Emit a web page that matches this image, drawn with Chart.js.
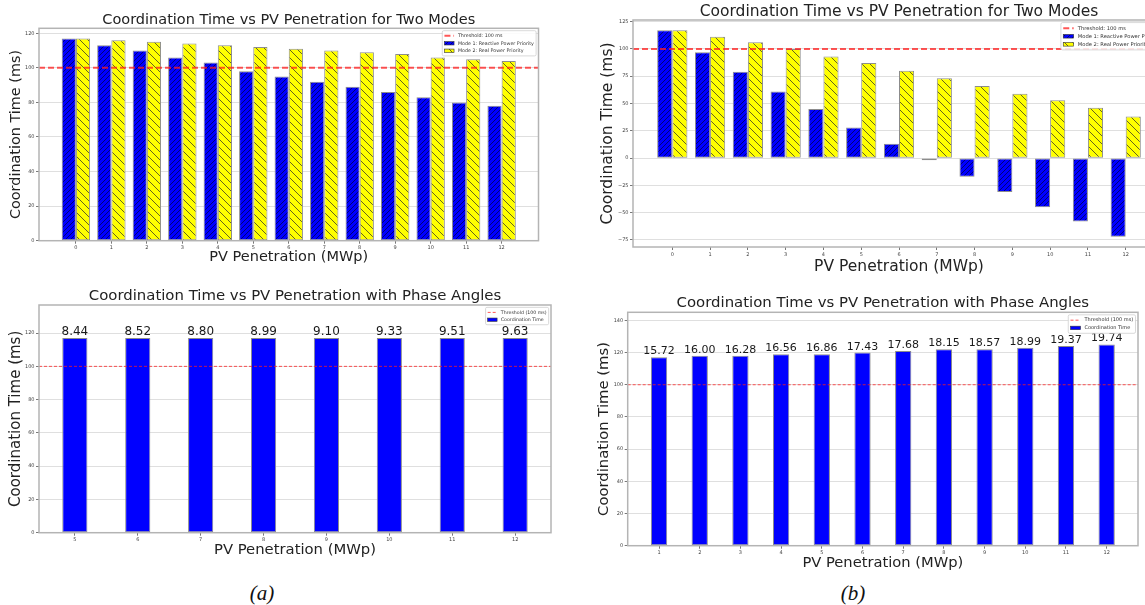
<!DOCTYPE html>
<html>
<head>
<meta charset="utf-8">
<script src="https://cdn.jsdelivr.net/npm/chart.js@4.4.1/dist/chart.umd.min.js"></script>
<style>
  html, body { margin: 0; padding: 0; background: #ffffff; }
  body { width: 1145px; height: 605px; overflow: hidden; position: relative; }
  canvas { position: absolute; }
  .cap { position: absolute; width: 80px; text-align: center; font-family: "Liberation Serif", "DejaVu Serif", serif; font-style: italic; font-size: 21px; color: #111; line-height: 26px; }
</style>
</head>
<body>
<canvas id="cA" width="560" height="272" style="left:0px;top:0px;"></canvas>
<canvas id="cB" width="595" height="282" style="left:590px;top:0px;"></canvas>
<canvas id="cC" width="575" height="285" style="left:0px;top:280px;"></canvas>
<canvas id="cD" width="575" height="292" style="left:585px;top:285px;"></canvas>
<div class="cap" style="left:222px;top:580px;">(a)</div>
<div class="cap" style="left:813px;top:580px;">(b)</div>
<script>
// ---------------- DATA ----------------
const pvLevelsA = [0, 1, 2, 3, 4, 5, 6, 7, 8, 9, 10, 11, 12];
const mode1TimesA = [117, 113, 110, 106, 103, 98, 95, 92, 89, 86, 83, 80, 78];
const mode2TimesA = [117, 116, 115, 114, 113, 112, 111, 110, 109, 108, 106, 105, 104];

const pvLevelsB = [0, 1, 2, 3, 4, 5, 6, 7, 8, 9, 10, 11, 12];
const mode1TimesB = [117, 97, 79, 61, 45, 28, 13, -2, -17, -31, -45, -58, -72];
const mode2TimesB = [117, 111, 106, 100, 93, 87, 80, 73, 66, 59, 53, 46, 38];

const pvLevelsC = [5, 6, 7, 8, 9, 10, 11, 12];
const coordTimesC = [117, 117, 117, 117, 117, 117, 117, 117];
const phaseAnglesC = [8.44, 8.52, 8.80, 8.99, 9.10, 9.33, 9.51, 9.63];

const pvLevelsD = [1, 2, 3, 4, 5, 6, 7, 8, 9, 10, 11, 12];
const coordTimesD = [117, 118, 118, 119, 119, 120, 121, 122, 122, 123, 124, 125];
const phaseAnglesD = [15.72, 16.00, 16.28, 16.56, 16.86, 17.43, 17.68, 18.15, 18.57, 18.99, 19.37, 19.74];

const thresholdMs = 100;

const yTicksA = [0, 20, 40, 60, 80, 100, 120];
const yTicksB = [-75, -50, -25, 0, 25, 50, 75, 100, 125];
const yTicksC = [0, 20, 40, 60, 80, 100, 120];
const yTicksD = [0, 20, 40, 60, 80, 100, 120, 140];

const titleModes = 'Coordination Time vs PV Penetration for Two Modes';
const titleAngles = 'Coordination Time vs PV Penetration with Phase Angles';
const xAxisTitle = 'PV Penetration (MWp)';
const yAxisTitle = 'Coordination Time (ms)';
const mode1Name = 'Mode 1: Reactive Power Priority';
const mode2Name = 'Mode 2: Real Power Priority';
const coordName = 'Coordination Time';
const thresholdNameTop = 'Threshold: 100 ms';
const thresholdNameBottom = 'Threshold (100 ms)';

// ---------------- STYLE HELPERS ----------------
Chart.defaults.font.family = '"DejaVu Sans", "Noto Sans", sans-serif';

function hatch(bg, dir, s, color, lw) {
  const c = document.createElement('canvas');
  c.width = s; c.height = s;
  const x = c.getContext('2d');
  x.fillStyle = bg; x.fillRect(0, 0, s, s);
  x.strokeStyle = color; x.lineWidth = lw;
  x.beginPath();
  if (dir === '/') {
    x.moveTo(0, s); x.lineTo(s, 0);
    x.moveTo(-s / 2, s / 2); x.lineTo(s / 2, -s / 2);
    x.moveTo(s / 2, s * 1.5); x.lineTo(s * 1.5, s / 2);
  } else {
    x.moveTo(0, 0); x.lineTo(s, s);
    x.moveTo(-s / 2, s / 2); x.lineTo(s / 2, s * 1.5);
    x.moveTo(s / 2, -s / 2); x.lineTo(s * 1.5, s / 2);
  }
  x.stroke();
  return x.createPattern(c, 'repeat');
}
const blueHatch = hatch('#0000ff', '/', 5, 'rgba(0,0,30,0.75)', 0.8);
const yellowHatch = hatch('#ffff00', '\\', 8, 'rgba(40,40,40,0.8)', 0.9);

// ---------------- PLUGINS ----------------
const thresholdPlugin = {
  id: 'threshold',
  afterDatasetsDraw(chart, args, o) {
    const {ctx, chartArea} = chart;
    const y = chart.scales.y.getPixelForValue(o.value);
    ctx.save();
    ctx.beginPath();
    ctx.setLineDash(o.dash);
    ctx.lineWidth = o.width;
    ctx.strokeStyle = o.color;
    ctx.moveTo(chartArea.left, y);
    ctx.lineTo(chartArea.right, y);
    ctx.stroke();
    ctx.restore();
  }
};

const framePlugin = {
  id: 'frame',
  afterDatasetsDraw(chart, args, o) {
    const {ctx, chartArea} = chart;
    ctx.save();
    ctx.strokeStyle = o.color;
    ctx.lineWidth = o.width;
    ctx.strokeRect(chartArea.left, chartArea.top, chartArea.right - chartArea.left, chartArea.bottom - chartArea.top);
    ctx.restore();
  }
};

const barLabelPlugin = {
  id: 'barLabels',
  afterDatasetsDraw(chart, args, o) {
    if (!o.labels) return;
    const {ctx} = chart;
    const meta = chart.getDatasetMeta(0);
    ctx.save();
    ctx.font = o.size + 'px "DejaVu Sans"';
    ctx.fillStyle = '#1a1a1a';
    ctx.textAlign = 'center';
    ctx.textBaseline = 'alphabetic';
    meta.data.forEach((el, i) => {
      ctx.fillText(o.labels[i].toFixed(2), el.x, el.y - o.gap);
    });
    ctx.restore();
  }
};

const legendPlugin = {
  id: 'boxLegend',
  afterDraw(chart, args, o) {
    const {ctx, chartArea} = chart;
    const fs = o.fontSize;
    const th = chart.options.plugins.threshold;
    const items = [{type: 'line', text: o.thresholdLabel, color: th.color, dash: th.dash, width: th.width}];
    chart.data.datasets.forEach(ds => items.push({type: 'rect', text: ds.label, fill: ds.backgroundColor, stroke: ds.borderColor}));
    ctx.save();
    ctx.font = fs + 'px "DejaVu Sans"';
    const textW = Math.max(...items.map(it => ctx.measureText(it.text).width));
    const pad = 0.45 * fs, handleW = 2 * fs, gap = 0.8 * fs, rowH = 1.55 * fs, axPad = 0.5 * fs;
    const boxW = pad * 2 + handleW + gap + textW;
    const boxH = pad * 2 + rowH * items.length - 0.3 * fs;
    const left = chartArea.right - axPad - boxW;
    const top = chartArea.top + axPad;
    ctx.beginPath();
    if (ctx.roundRect) ctx.roundRect(left, top, boxW, boxH, 0.3 * fs); else ctx.rect(left, top, boxW, boxH);
    ctx.fillStyle = 'rgba(255,255,255,0.85)';
    ctx.fill();
    ctx.lineWidth = 0.8;
    ctx.strokeStyle = '#cfcfcf';
    ctx.stroke();
    items.forEach((it, i) => {
      const cy = top + pad + rowH * (i + 0.5) - 0.15 * fs;
      const hx = left + pad;
      if (it.type === 'line') {
        ctx.beginPath();
        ctx.setLineDash(it.dash);
        ctx.lineWidth = it.width;
        ctx.strokeStyle = it.color;
        ctx.moveTo(hx, cy); ctx.lineTo(hx + handleW, cy);
        ctx.stroke();
        ctx.setLineDash([]);
      } else {
        const hh = 0.7 * fs;
        ctx.fillStyle = it.fill;
        ctx.fillRect(hx, cy - hh / 2, handleW, hh);
        ctx.lineWidth = 0.6;
        ctx.strokeStyle = '#333';
        ctx.strokeRect(hx, cy - hh / 2, handleW, hh);
      }
      ctx.fillStyle = '#333';
      ctx.textAlign = 'left';
      ctx.textBaseline = 'middle';
      ctx.fillText(it.text, hx + handleW + gap, cy);
    });
    ctx.restore();
  }
};

// ---------------- CHART BUILDER ----------------
function fmtTick(v) { return v < 0 ? '\u2212' + Math.abs(v) : String(v); }

function panel(id, o) {
  return new Chart(document.getElementById(id).getContext('2d'), {
    type: 'bar',
    data: {datasets: o.datasets},
    options: {
      responsive: false,
      animation: false,
      devicePixelRatio: 1,
      events: [],
      layout: {padding: {left: 0, right: o.padRight, top: 0, bottom: 0}},
      datasets: {bar: {categoryPercentage: o.catPct, barPercentage: o.barPct, borderSkipped: false}},
      plugins: {
        legend: {display: false},
        tooltip: {enabled: false},
        title: {
          display: true, text: o.title, fullSize: false, color: '#222',
          font: {size: o.titleSize, lineHeight: 1, weight: 'normal'},
          padding: {top: o.titlePadTop, bottom: o.titlePadBottom}
        },
        threshold: {value: thresholdMs, color: 'rgba(255,30,30,0.75)', width: o.thWidth, dash: o.thDash},
        frame: {color: '#b4b4b4', width: 1.5},
        barLabels: {labels: o.barLabels, size: o.barLabelSize, gap: 3},
        boxLegend: {fontSize: o.legendSize, thresholdLabel: o.thresholdLabel}
      },
      scales: {
        x: {
          type: 'linear', bounds: 'data', min: o.xMin, max: o.xMax, offset: false,
          afterBuildTicks: s => { s.ticks = o.xTicks.map(v => ({value: v})); },
          afterFit: s => { s.height = o.xHeight; },
          grid: {offset: false, drawOnChartArea: false, drawTicks: true, tickLength: 3, tickColor: '#555', tickWidth: 0.8},
          border: {display: false},
          ticks: {font: {size: 5}, color: '#444', padding: 1.5, autoSkip: false, maxRotation: 0, minRotation: 0, callback: v => fmtTick(v)},
          title: {display: true, text: xAxisTitle, color: '#222', font: {size: o.xTitleSize, lineHeight: 1.2}, padding: {top: 0, bottom: o.xTitlePadBottom}}
        },
        y: {
          type: 'linear', bounds: 'data', min: o.yMin, max: o.yMax,
          afterBuildTicks: s => { s.ticks = o.yTicks.map(v => ({value: v})); },
          afterFit: s => { s.width = o.yWidth; },
          grid: {color: 'rgba(0,0,0,0.16)', lineWidth: 0.8, borderDash: [2, 2], drawTicks: true, tickLength: 3, tickColor: '#555', tickWidth: 0.8, tickBorderDash: []},
          border: {display: false},
          ticks: {font: {size: 5}, color: '#444', padding: 1.5, autoSkip: false, callback: v => fmtTick(v)},
          title: {display: true, text: yAxisTitle, color: '#222', font: {size: o.yTitleSize, lineHeight: 1.2}, padding: {top: o.yTitlePadTop, bottom: 0}}
        }
      }
    },
    plugins: [thresholdPlugin, framePlugin, barLabelPlugin, legendPlugin]
  });
}

function xy(xs, ys) { return xs.map((x, i) => ({x: x, y: ys[i]})); }

// (a) top
panel('cA', {
  title: titleModes, titleSize: 14.5, titlePadTop: 13.25, titlePadBottom: 0.55,
  padRight: 21.5, yWidth: 39, xHeight: 31.3,
  xTitleSize: 14.5, xTitlePadBottom: 6, yTitleSize: 14.4, yTitlePadTop: 7.8,
  xMin: -1.04, xMax: 13.04, xTicks: pvLevelsA, yMin: 0, yMax: 122.85, yTicks: yTicksA,
  catPct: 0.8, barPct: 1.0, thWidth: 2, thDash: [6, 3], legendSize: 4.8, thresholdLabel: thresholdNameTop,
  datasets: [
    {label: mode1Name, data: xy(pvLevelsA, mode1TimesA), backgroundColor: blueHatch, borderColor: '#8c8c8c', borderWidth: 1},
    {label: mode2Name, data: xy(pvLevelsA, mode2TimesA), backgroundColor: yellowHatch, borderColor: '#8c8c8c', borderWidth: 1}
  ]
});

// (b) top
panel('cB', {
  title: titleModes, titleSize: 15.5, titlePadTop: 3.95, titlePadBottom: 0.55,
  padRight: 20, yWidth: 43, xHeight: 35,
  xTitleSize: 15.5, xTitlePadBottom: 6, yTitleSize: 15.5, yTitlePadTop: 8.4,
  xMin: -1.04, xMax: 13.04, xTicks: pvLevelsB, yMin: -81.45, yMax: 126.45, yTicks: yTicksB,
  catPct: 0.8, barPct: 1.0, thWidth: 2, thDash: [6, 3], legendSize: 5.2, thresholdLabel: thresholdNameTop,
  datasets: [
    {label: mode1Name, data: xy(pvLevelsB, mode1TimesB), backgroundColor: blueHatch, borderColor: '#8c8c8c', borderWidth: 1},
    {label: mode2Name, data: xy(pvLevelsB, mode2TimesB), backgroundColor: yellowHatch, borderColor: '#8c8c8c', borderWidth: 1}
  ]
});

// (a) bottom
panel('cC', {
  title: titleAngles, titleSize: 14.9, titlePadTop: 8.55, titlePadBottom: 1.55,
  padRight: 24, yWidth: 39, xHeight: 32.3,
  xTitleSize: 14.8, xTitlePadBottom: 6.1, yTitleSize: 15, yTitlePadTop: 7.4,
  xMin: 4.43, xMax: 12.57, xTicks: pvLevelsC, yMin: 0, yMax: 136.9, yTicks: yTicksC,
  catPct: 1.0, barPct: 0.4, thWidth: 1, thDash: [3, 2], legendSize: 4.7, thresholdLabel: thresholdNameBottom,
  barLabels: phaseAnglesC, barLabelSize: 12,
  datasets: [
    {label: coordName, data: xy(pvLevelsC, coordTimesC), backgroundColor: '#0000ff', borderColor: '#8c8c8c', borderWidth: 1}
  ]
});

// (b) bottom
panel('cD', {
  title: titleAngles, titleSize: 14.9, titlePadTop: 10.85, titlePadBottom: 1.55,
  padRight: 22, yWidth: 42.7, xHeight: 31.3,
  xTitleSize: 14.7, xTitlePadBottom: 5.5, yTitleSize: 14.8, yTitlePadTop: 10.1,
  xMin: 0.23, xMax: 12.77, xTicks: pvLevelsD, yMin: 0, yMax: 145, yTicks: yTicksD,
  catPct: 1.0, barPct: 0.4, thWidth: 1, thDash: [3, 2], legendSize: 5, thresholdLabel: thresholdNameBottom,
  barLabels: phaseAnglesD, barLabelSize: 11,
  datasets: [
    {label: coordName, data: xy(pvLevelsD, coordTimesD), backgroundColor: '#0000ff', borderColor: '#8c8c8c', borderWidth: 1}
  ]
});
</script>
</body>
</html>
